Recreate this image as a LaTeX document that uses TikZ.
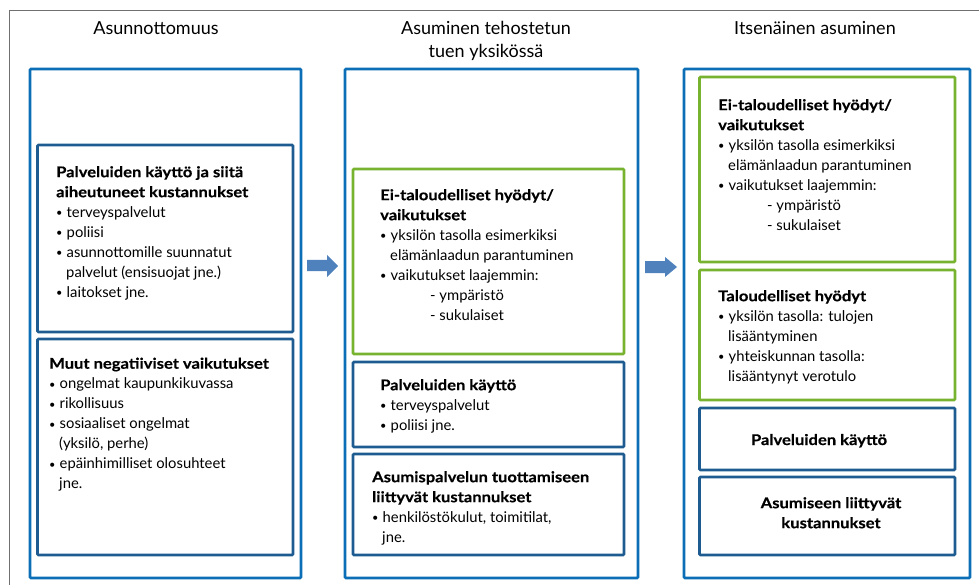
\documentclass[tikz,border=0pt]{standalone}
\usepackage{fontspec}
\setmainfont{Lato}[BoldFeatures={FakeStretch=1.12,FakeBold=0.4}]
\definecolor{outerblue}{HTML}{0B6EB6}
\definecolor{innerblue}{HTML}{1D5B91}
\definecolor{benefitgreen}{HTML}{78B32F}
\definecolor{arrowblue}{HTML}{4F81BD}
\definecolor{framegray}{HTML}{707070}
\newcommand\bl{\makebox[10.5pt][l]{\raisebox{0.6pt}{\fontsize{11}{11}\selectfont\textbullet}}}
\newcommand\ind{\hspace*{10pt}}
\tikzset{
  framelines/.style={draw=framegray, line width=1pt},
  column/.style={draw=outerblue, line width=2.6pt, rounded corners=1pt},
  costbox/.style={draw=innerblue, line width=2.6pt, rounded corners=1pt},
  gainbox/.style={draw=benefitgreen, line width=2.6pt, rounded corners=1pt},
  flowarrow/.style={fill=arrowblue, draw=none},
  heading/.style={inner sep=0pt, align=center, font=\fontsize{18}{23}\selectfont},
  body/.style={anchor=north west, inner sep=0pt, align=left, font=\fontsize{14.8}{20}\selectfont},
  centred/.style={inner sep=0pt, align=center, font=\fontsize{14.8}{20}\selectfont\bfseries},
}
\begin{document}
\begin{tikzpicture}[x=1pt, y=-1pt]
\useasboundingbox (0,0) rectangle (979,585);

% outer frame (only top and left edges fall inside the page)
\draw[framelines] (979,10.5) -- (9.5,10.5) -- (9.5,585);

% column headings
\node[heading, anchor=base] (h1) at (156,35) {Asunnottomuus};
\node[heading, anchor=north] (h2) at (486,18) {\strut Asuminen tehostetun\\tuen yksikössä};
\node[heading, anchor=base] (h3) at (815,35) {Itsenäinen asuminen};

% column frames
\draw[column] (30,69) rectangle (301,578);
\draw[column] (345,69) rectangle (638,578);
\draw[column] (684,69) rectangle (970,578);

% column 1 boxes
\draw[costbox] (37.5,145) rectangle (293,332);
\draw[costbox] (37.5,339) rectangle (293,555);
% column 2 boxes
\draw[gainbox] (353,169) rectangle (624,354);
\draw[costbox] (353,362) rectangle (624,447);
\draw[costbox] (353,454) rectangle (624,555);
% column 3 boxes
\draw[gainbox] (699.5,77) rectangle (955,262);
\draw[gainbox] (699.5,270) rectangle (955,400);
\draw[costbox] (699.5,408) rectangle (955,470);
\draw[costbox] (699.5,477) rectangle (955,555);

% arrows between columns
\fill[flowarrow] (307,260) -- (327,260) -- (327,255) -- (338,266) -- (327,277) -- (327,271) -- (307,271) -- cycle;
\fill[flowarrow] (645,261) -- (665,261) -- (665,257) -- (677,267) -- (665,277) -- (665,273) -- (645,273) -- cycle;

% column 1 texts
\node[body] (c1a) at (56,163) {\strut\textbf{Palveluiden käyttö ja siitä}\\
  \textbf{aiheutuneet kustannukset}\\
  \bl terveyspalvelut\\
  \bl poliisi\\
  \bl asunnottomille suunnatut\\
  \ind palvelut (ensisuojat jne.)\\
  \bl laitokset jne.};
\node[body] (c1b) at (49,354.5) {\strut\textbf{Muut negatiiviset vaikutukset}\\
  \bl ongelmat kaupunkikuvassa\\
  \bl rikollisuus\\
  \bl sosiaaliset ongelmat\\
  \ind (yksilö, perhe)\\
  \bl epäinhimilliset olosuhteet\\
  \ind jne.};

% column 2 texts
\node[body] (c2a) at (380,186) {\strut\textbf{Ei-taloudelliset hyödyt/}\\
  \textbf{vaikutukset}\\
  \bl yksilön tasolla esimerkiksi\\
  \ind elämänlaadun parantuminen\\
  \bl vaikutukset laajemmin:\\
  \hspace*{50pt}- ympäristö\\
  \hspace*{50pt}- sukulaiset};
\node[body] (c2b) at (380,376) {\strut\textbf{Palveluiden käyttö}\\
  \bl terveyspalvelut\\
  \bl poliisi jne.};
\node[body] (c2c) at (372,468) {\strut\textbf{Asumispalvelun tuottamiseen}\\
  \textbf{liittyvät kustannukset}\\
  \bl henkilöstökulut, toimitilat,\\
  \ind jne.};

% column 3 texts
\node[body] (c3a) at (718,96) {\strut\textbf{Ei-taloudelliset hyödyt/}\\
  \textbf{vaikutukset}\\
  \bl yksilön tasolla esimerkiksi\\
  \ind elämänlaadun parantuminen\\
  \bl vaikutukset laajemmin:\\
  \hspace*{49pt}- ympäristö\\
  \hspace*{49pt}- sukulaiset};
\node[body] (c3b) at (718,287) {\strut\textbf{Taloudelliset hyödyt}\\
  \bl yksilön tasolla: tulojen\\
  \ind lisääntyminen\\
  \bl yhteiskunnan tasolla:\\
  \ind lisääntynyt verotulo};
\node[centred, anchor=base] (c3c) at (819,445) {Palveluiden käyttö};
\node[centred, anchor=north] (c3d) at (831,494) {\strut Asumiseen liittyvät\\kustannukset};
\end{tikzpicture}
\end{document}
